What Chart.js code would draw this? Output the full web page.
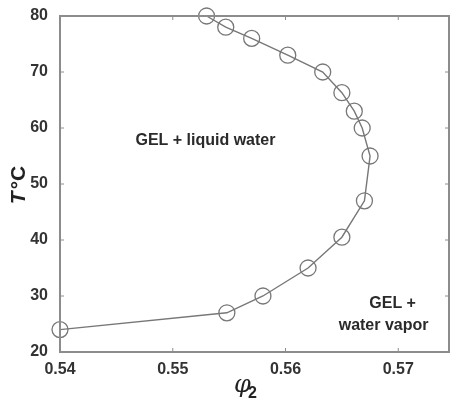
<!DOCTYPE html>
<html>
<head>
<meta charset="utf-8">
<script src="https://cdn.jsdelivr.net/npm/chart.js@4/dist/chart.umd.min.js"></script>
<style>
  html, body { margin: 0; padding: 0; background: #fff; overflow: hidden; }
</style>
</head>
<body>
<canvas id="phase" width="450" height="401"></canvas>
<script>
// phase boundary: polymer fraction phi2 vs temperature
const phi2 = [0.553, 0.5547, 0.557, 0.5602, 0.5633, 0.565, 0.5661, 0.5668, 0.5675, 0.567, 0.565, 0.562, 0.558, 0.5548, 0.54];
const tempC = [80, 78, 76, 73, 70, 66.3, 63, 60, 55, 47, 40.5, 35, 30, 27, 24];

const xTicks = [0.54, 0.55, 0.56, 0.57];
const yTicks = [20, 30, 40, 50, 60, 70, 80];

// region names, one entry per text line, placed in data units
const regionLabels = [
  { text: 'GEL + liquid water', x: 0.5529, y: 57.7 },
  { text: 'GEL +', x: 0.5695, y: 28.6 },
  { text: 'water vapor', x: 0.5687, y: 24.8 }
];

const axisGray = '#8c8c8c';
const markGray = '#777';
const fontFam = '"Liberation Sans", Arial, sans-serif';

// box around the axes with inward tick marks on all four sides
const boxPlugin = {
  id: 'box',
  afterDraw(chart) {
    const { ctx, chartArea: a, scales } = chart;
    ctx.save();
    ctx.strokeStyle = axisGray;
    ctx.lineWidth = 2;
    ctx.strokeRect(a.left, a.top, a.right - a.left, a.bottom - a.top);
    ctx.lineWidth = 1;
    ctx.beginPath();
    xTicks.forEach(v => {
      const px = scales.x.getPixelForValue(v);
      ctx.moveTo(px, a.bottom); ctx.lineTo(px, a.bottom - 4);
      ctx.moveTo(px, a.top); ctx.lineTo(px, a.top + 4);
    });
    yTicks.forEach(v => {
      const py = scales.y.getPixelForValue(v);
      ctx.moveTo(a.left, py); ctx.lineTo(a.left + 4, py);
      ctx.moveTo(a.right, py); ctx.lineTo(a.right - 4, py);
    });
    ctx.stroke();

    // region labels
    ctx.fillStyle = '#2a2a2a';
    ctx.font = 'bold 16px ' + fontFam;
    ctx.textAlign = 'center';
    ctx.textBaseline = 'middle';
    regionLabels.forEach(l => {
      ctx.fillText(l.text, scales.x.getPixelForValue(l.x), scales.y.getPixelForValue(l.y));
    });

    // y title: italic T, then °C, rotated
    ctx.save();
    ctx.translate(19, 185);
    ctx.rotate(-Math.PI / 2);
    ctx.fillStyle = '#222';
    ctx.textBaseline = 'middle';
    ctx.textAlign = 'left';
    ctx.font = 'italic bold 21px ' + fontFam;
    const tW = ctx.measureText('T').width;
    ctx.font = 'bold 21px ' + fontFam;
    const cW = ctx.measureText('°C').width;
    const start = -(tW + cW + 2) / 2;
    ctx.font = 'italic bold 21px ' + fontFam;
    ctx.fillText('T', start, 0);
    ctx.font = 'bold 21px ' + fontFam;
    ctx.fillText('°C', start + tW + 2, 0);
    ctx.restore();

    // x title: phi with subscript 2
    ctx.fillStyle = '#222';
    ctx.textAlign = 'left';
    ctx.textBaseline = 'alphabetic';
    ctx.font = 'italic 24px "DejaVu Serif", serif';
    ctx.fillText('φ', 234, 392);
    ctx.font = 'bold 16px ' + fontFam;
    ctx.fillText('2', 248, 398);
    ctx.restore();
  }
};

new Chart(document.getElementById('phase'), {
  type: 'scatter',
  data: {
    datasets: [{
      data: phi2.map((x, i) => ({ x: x, y: tempC[i] })),
      showLine: true,
      borderColor: markGray,
      borderWidth: 1.4,
      pointStyle: 'circle',
      pointRadius: 8,
      pointBorderColor: markGray,
      pointBorderWidth: 1.3,
      pointBackgroundColor: 'rgba(0,0,0,0)',
      clip: false
    }]
  },
  options: {
    responsive: false,
    animation: false,
    devicePixelRatio: 1,
    layout: { autoPadding: false, padding: { top: 16, right: 1, left: 0, bottom: 0 } },
    plugins: { legend: { display: false }, tooltip: { enabled: false } },
    scales: {
      x: {
        type: 'linear',
        min: 0.54,
        max: 0.5745,
        afterBuildTicks: s => { s.ticks = xTicks.map(v => ({ value: v })); },
        afterFit: s => { s.height = 49; s.paddingLeft = 0; s.paddingRight = 0; },
        grid: { display: false },
        border: { display: false },
        ticks: {
          autoSkip: false,
          maxRotation: 0,
          color: '#333',
          padding: 0,
          font: { family: fontFam, size: 16, weight: 'bold' },
          callback: v => v.toFixed(2)
        }
      },
      y: {
        type: 'linear',
        min: 20,
        max: 80,
        afterBuildTicks: s => { s.ticks = yTicks.map(v => ({ value: v })); },
        afterFit: s => { s.width = 60; s.paddingTop = 0; s.paddingBottom = 0; },
        grid: { display: false },
        border: { display: false },
        ticks: {
          autoSkip: false,
          color: '#333',
          padding: 4,
          font: { family: fontFam, size: 16, weight: 'bold' }
        }
      }
    }
  },
  plugins: [boxPlugin]
});
</script>
</body>
</html>
